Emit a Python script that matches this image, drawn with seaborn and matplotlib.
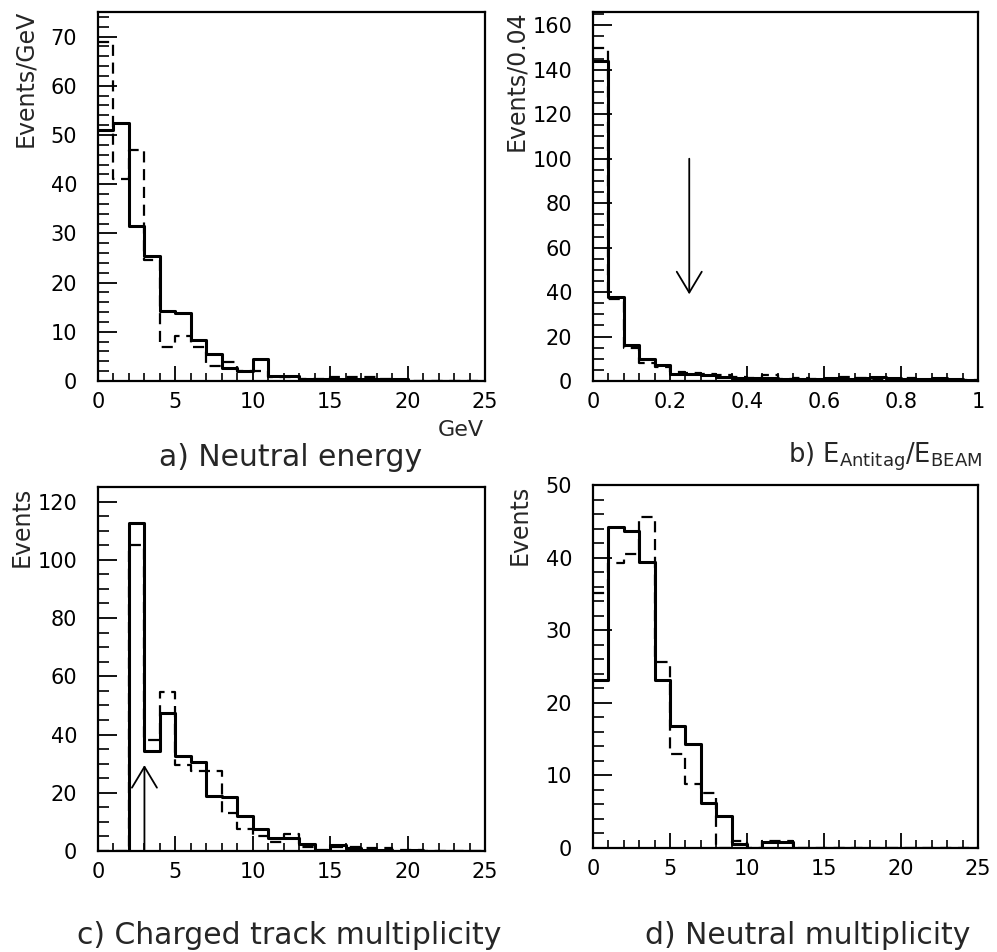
import numpy as np
import pandas as pd
import matplotlib
matplotlib.use("Agg")
import matplotlib.pyplot as plt
import seaborn as sns
from matplotlib.ticker import MultipleLocator, FixedLocator, FixedFormatter

# ---------------- data ----------------
energy_range = (0, 25)
energy_solid = [51, 52.5, 31.5, 25.5, 14.3, 13.9, 8.3, 5.5, 2.6, 2.0, 4.4, 1.0,
                1.0, 0.5, 0.5, 0.5, 0.5, 0.5, 0.5, 0.5, 0, 0, 0, 0, 0]
energy_dashed = [69, 41, 47, 24.5, 7.0, 9.1, 7.0, 3.0, 3.9, 2.1, 2.0, 0.75,
                 0.75, 0.5, 0.5, 0.75, 0.75, 0.75, 0.5, 0.3, 0, 0, 0, 0, 0]

antitag_range = (0, 1)
antitag_solid = [144, 38, 16, 10, 7, 3, 3, 2.5, 2, 1.5, 1.5, 1.5, 1, 1, 1,
                 1.5, 1, 1.5, 2, 1.5, 1, 1, 1.5, 1, 0.5]
antitag_dashed = [150, 37, 15, 8, 6.5, 4, 3.5, 3, 2.5, 2, 1.5, 2.5, 1, 1.5,
                  1, 1, 2, 1.5, 1, 1, 1.5, 0.5, 1, 0.5, 0.5]
antitag_cut = 0.25

charged_range = (0, 25)
charged_solid = [0, 0, 112.5, 34.5, 47.5, 32.5, 30.5, 19, 18.5, 12, 7.5, 4.5,
                 4.5, 2.5, 0.5, 2, 1, 0.5, 0.5, 0, 0.5, 0, 0, 0, 0]
charged_dashed = [0, 0, 105, 38, 54.5, 29.5, 27.5, 27.5, 13, 7.5, 5, 3, 6,
                  1.5, 0.5, 1.5, 1.5, 1, 1, 0.5, 0.5, 0, 0, 0, 0]
charged_cut = 3

neutral_range = (0, 25)
neutral_solid = [23.1, 44.2, 43.7, 39.4, 23.1, 16.8, 14.3, 6.2, 4.4, 0.5, 0,
                 0.8, 0.8, 0, 0, 0, 0, 0, 0, 0, 0, 0, 0, 0, 0]
neutral_dashed = [35.1, 39.3, 40.5, 45.6, 25.6, 12.9, 8.75, 7.6, 0, 1, 0,
                  1, 1, 0, 0, 0, 0, 0, 0, 0, 0, 0, 0, 0, 0]

# ---------------- style ----------------
sns.set_theme(style="ticks")
plt.rcParams["font.family"] = ["DejaVu Sans"]
plt.rcParams["mathtext.fontset"] = "dejavusans"

W, H = 997, 952
fig = plt.figure(figsize=(W / 100, H / 100), dpi=100)


def px_axes(left, top, right, bottom):
    return fig.add_axes([left / W, 1 - bottom / H, (right - left) / W,
                         (bottom - top) / H])


def draw(ax, rng, solid, dashed):
    n = len(solid)
    width = (rng[1] - rng[0]) / n
    centers = rng[0] + width * (np.arange(n) + 0.5)
    df = pd.DataFrame({"x": centers, "solid": solid, "dashed": dashed})
    sns.histplot(data=df, x="x", weights="dashed", bins=n, binrange=rng,
                 element="step", fill=False, color="black", linewidth=1.6,
                 linestyle=(0, (5, 3)), ax=ax)
    sns.histplot(data=df, x="x", weights="solid", bins=n, binrange=rng,
                 element="step", fill=False, color="black", linewidth=2.2,
                 ax=ax)


def style(ax, xlim, ylim, xmaj, xmin, ymaj, ymin):
    ax.set_xlim(*xlim)
    ax.set_ylim(*ylim)
    ax.xaxis.set_major_locator(MultipleLocator(xmaj))
    ax.xaxis.set_minor_locator(MultipleLocator(xmin))
    ax.yaxis.set_major_locator(MultipleLocator(ymaj))
    ax.yaxis.set_minor_locator(MultipleLocator(ymin))
    ax.tick_params(which="both", direction="in", top=False, right=False,
                   colors="black", labelsize=15)
    ax.tick_params(axis="x", which="major", length=11, width=1.3, pad=8)
    ax.tick_params(axis="x", which="minor", length=6, width=1.2)
    ax.tick_params(axis="y", which="major", length=14, width=1.3, pad=15)
    ax.tick_params(axis="y", which="minor", length=8, width=1.2)
    for s in ax.spines.values():
        s.set_linewidth(1.6)
        s.set_color("black")
        s.set_visible(True)
    ax.set_xlabel("")
    ax.set_ylabel("")
    ax.grid(False)


arrow_kw = dict(arrowstyle="->,head_length=1.5,head_width=0.9", lw=1.3,
                color="black", shrinkA=0, shrinkB=0, mutation_scale=10)

# a) Neutral energy
axa = px_axes(98, 12, 485, 381)
draw(axa, energy_range, energy_solid, energy_dashed)
style(axa, energy_range, (0, 75), 5, 1, 10, 2)

# b) Antitag
axb = px_axes(593, 12, 978, 381)
draw(axb, antitag_range, antitag_solid, antitag_dashed)
style(axb, antitag_range, (0, 166), 0.2, 0.04, 20, 5)
axb.xaxis.set_major_locator(FixedLocator([0, 0.2, 0.4, 0.6, 0.8, 1.0]))
axb.xaxis.set_major_formatter(FixedFormatter(["0", "0.2", "0.4", "0.6", "0.8", "1"]))
axb.annotate("", xy=(antitag_cut, 39), xytext=(antitag_cut, 100), arrowprops=arrow_kw)

# c) Charged track multiplicity
axc = px_axes(98, 487, 485, 851)
draw(axc, charged_range, charged_solid, charged_dashed)
style(axc, charged_range, (0, 125), 5, 1, 20, 5)
axc.annotate("", xy=(charged_cut, 29.5), xytext=(charged_cut, 0), arrowprops=arrow_kw)

# d) Neutral multiplicity
axd = px_axes(593, 485, 978, 848)
draw(axd, neutral_range, neutral_solid, neutral_dashed)
style(axd, neutral_range, (0, 50), 5, 1, 10, 2)

# texts
fig.text(25 / W, 1 - 10 / H, "Events/GeV", rotation=90, ha="center", va="top", fontsize=17)
fig.text(516 / W, 1 - 10 / H, "Events/0.04", rotation=90, ha="center", va="top", fontsize=17)
fig.text(22 / W, 1 - 487 / H, "Events", rotation=90, ha="center", va="top", fontsize=17)
fig.text(520 / W, 1 - 485 / H, "Events", rotation=90, ha="center", va="top", fontsize=17)

fig.text(484 / W, 1 - 430 / H, "GeV", ha="right", va="center", fontsize=16)
fig.text(291 / W, 1 - 457 / H, "a) Neutral energy", ha="center", va="center", fontsize=21.5)
fig.text(885 / W, 1 - 457 / H, r"b) E$_{\mathrm{Antitag}}$/E$_{\mathrm{BEAM}}$",
         ha="center", va="center", fontsize=18.5)
fig.text(289 / W, 1 - 935 / H, "c) Charged track multiplicity", ha="center", va="center", fontsize=21.5)
fig.text(808 / W, 1 - 935 / H, "d) Neutral multiplicity", ha="center", va="center", fontsize=21.5)

fig.savefig("out.png", dpi=100, facecolor="white")
